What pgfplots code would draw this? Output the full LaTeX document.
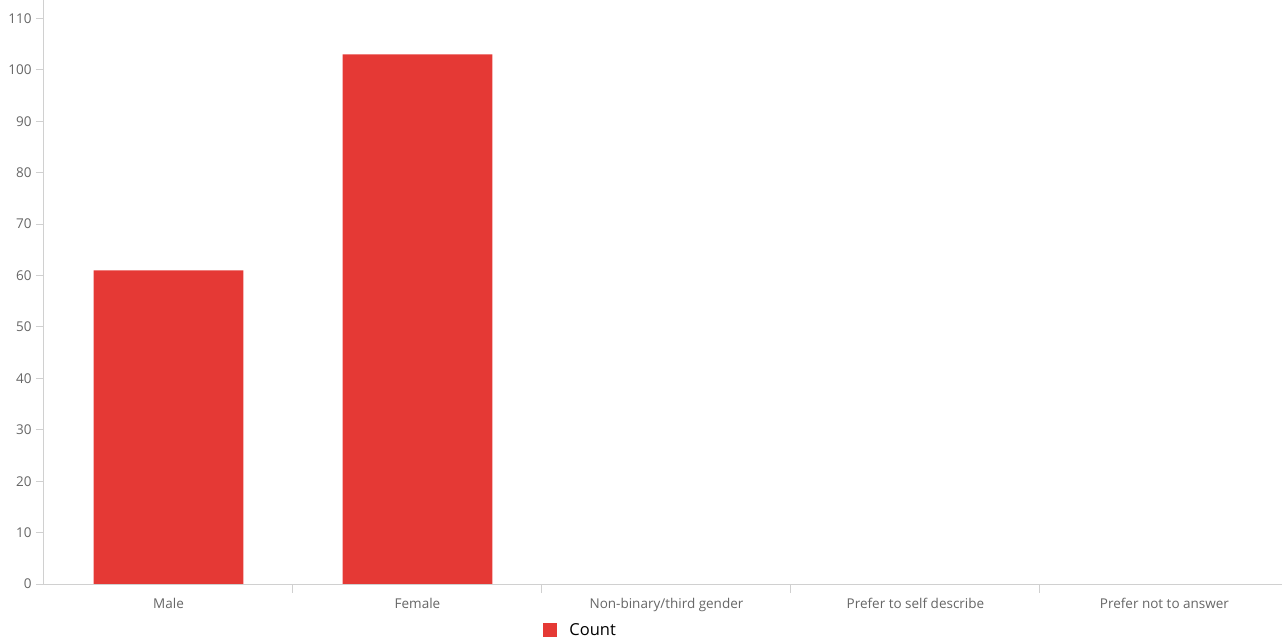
\documentclass[border=0pt]{standalone}
\usepackage{pgfplots}
\pgfplotsset{compat=1.18}
\usepackage{fontspec}
\setmainfont{Open Sans}
\definecolor{barred}{HTML}{E53935}
\definecolor{axgray}{HTML}{D0D0D0}
\definecolor{txtgray}{HTML}{666666}
\begin{document}
\begin{tikzpicture}
\begin{axis}[
  name=ax,
  scale only axis,
  axis on top,
  width=1245bp, height=584bp,
  xmin=-0.5, xmax=4.5,
  ymin=0, ymax=113.6,
  axis lines*=left,
  axis line style={axgray, line width=1bp},
  xtick={0,1,2,3,4},
  xticklabels={Male,Female,Non-binary/third gender,Prefer to self describe,Prefer not to answer},
  major x tick style={draw=none},
  minor xtick={0.5,1.5,2.5,3.5},
  minor x tick style={axgray, line width=1bp},
  minor tick length=9bp,
  ytick={0,10,...,110},
  major y tick style={axgray, line width=1bp},
  major tick length=8bp,
  tick align=outside,
  xtick pos=left, ytick pos=left,
  tick label style={font=\fontsize{13.5bp}{16bp}\selectfont, text=txtgray},
  xticklabel style={yshift=-3bp},
  yticklabel style={xshift=-1bp},
  /pgf/number format/assume math mode=true,
  ybar, bar width=0.602,
  legend style={draw=none, at={(0.401,-0.079)}, anchor=west,
    font=\fontsize{16.5bp}{18bp}\selectfont, inner sep=0pt,
    /tikz/every odd column/.append style={column sep=10bp}},
  legend image code/.code={\fill[barred] (0bp,-7bp) rectangle (14bp,7bp);},
]
\addplot[fill=barred, draw=none] coordinates {(0,61) (1,103) (2,0) (3,0) (4,0)};
\addlegendentry{Count}
\end{axis}
\pgfresetboundingbox
\path ([xshift=-44bp,yshift=-57bp]ax.south west) rectangle ([xshift=1238bp]ax.north west);
\end{tikzpicture}
\end{document}
